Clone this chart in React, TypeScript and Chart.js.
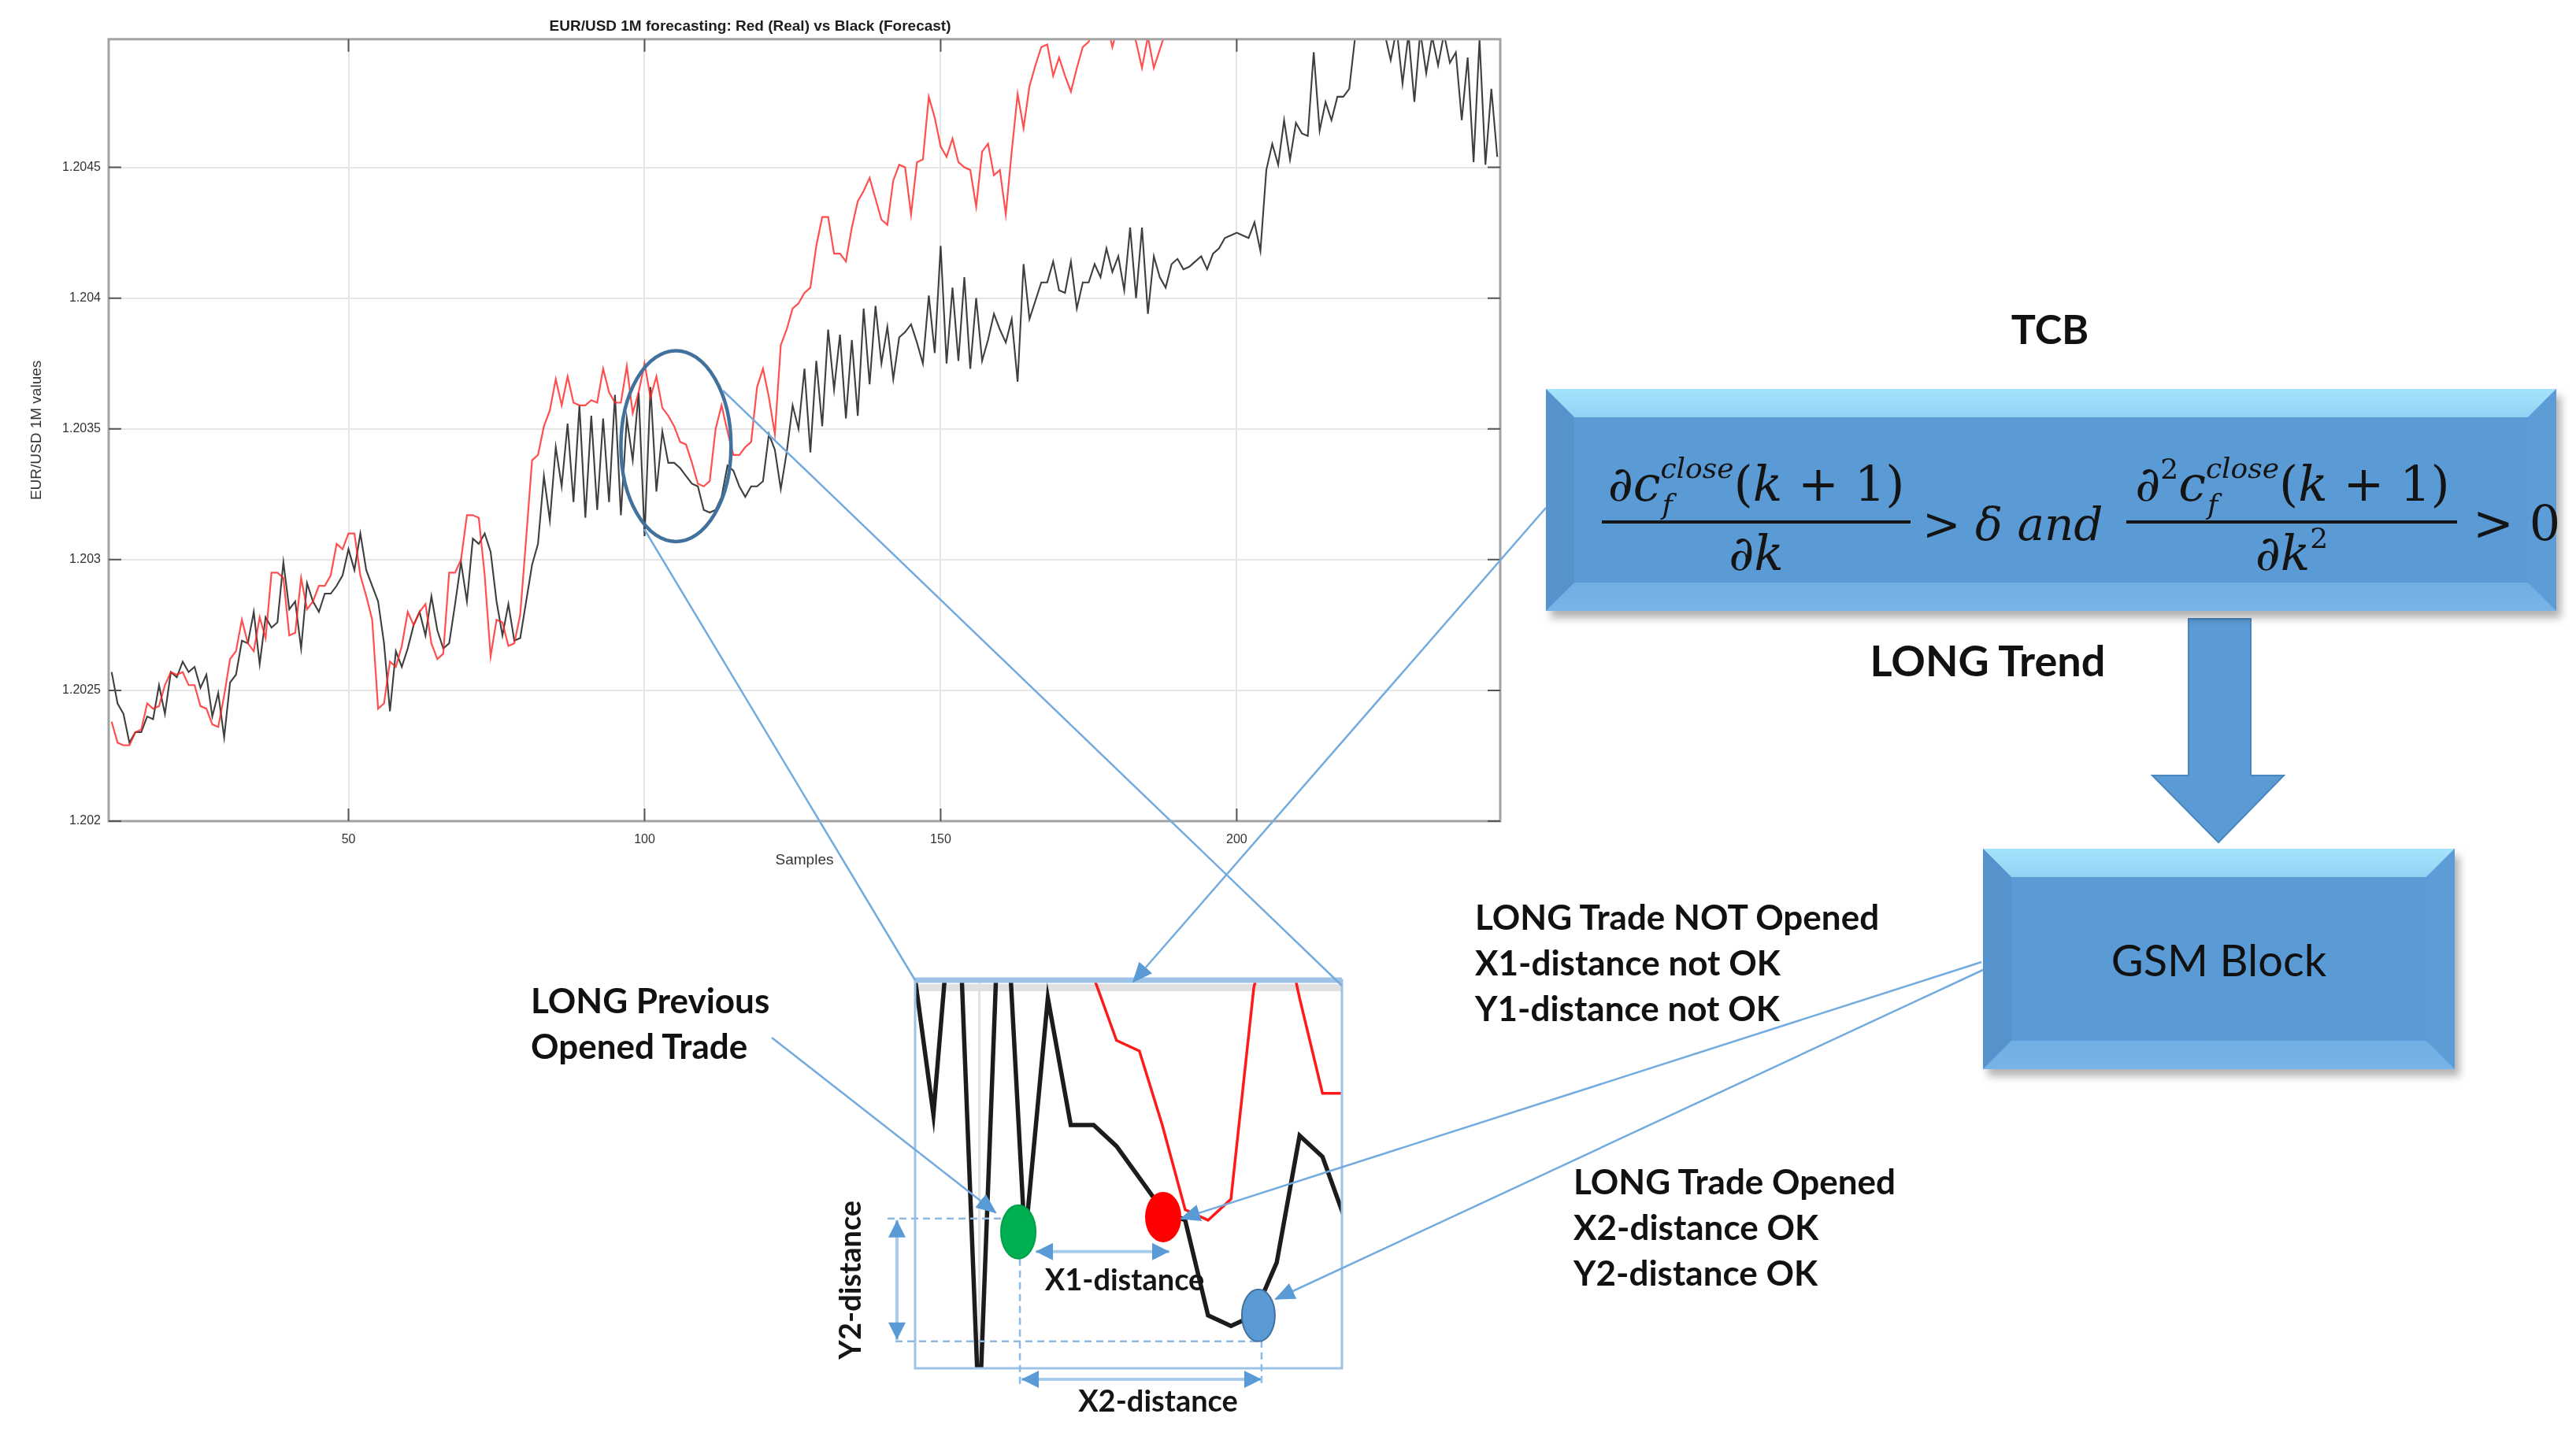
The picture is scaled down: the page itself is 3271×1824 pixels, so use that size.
import React, { useEffect, useRef } from 'react';
import { Chart, registerables } from 'chart.js';

Chart.register(...registerables);

// ---------------- data ----------------
const FIRST_SAMPLE = 10;

// Black (Forecast), samples 10..244
const forecastBlack: number[] = [
  1.20257, 1.20245, 1.20241, 1.20230, 1.20234, 1.20234, 1.20240, 1.20239, 1.20252, 1.20241,
  1.20257, 1.20255, 1.20261, 1.20257, 1.20259, 1.20251, 1.20256, 1.20240, 1.20249, 1.20232,
  1.20253, 1.20256, 1.20269, 1.20268, 1.20280, 1.20260, 1.20278, 1.20274, 1.20276, 1.20299,
  1.20281, 1.20284, 1.20266, 1.20291, 1.20284, 1.20280, 1.20287, 1.20287, 1.20290, 1.20294,
  1.20304, 1.20296, 1.20310, 1.20296, 1.20290, 1.20284, 1.20268, 1.20242, 1.20265, 1.20259,
  1.20266, 1.20275, 1.20280, 1.20271, 1.20286, 1.20273, 1.20266, 1.20268, 1.20283, 1.20299,
  1.20284, 1.20308, 1.20306, 1.20310, 1.20303, 1.20284, 1.20271, 1.20283, 1.20269, 1.20270,
  1.20284, 1.20298, 1.20306, 1.20332, 1.20315, 1.20343, 1.20328, 1.20352, 1.20322, 1.20359,
  1.20316, 1.20355, 1.20319, 1.20354, 1.20322, 1.20363, 1.20317, 1.20354, 1.20338, 1.20364,
  1.20309, 1.20366, 1.20326, 1.20349, 1.20337, 1.20337, 1.20335, 1.20332, 1.20329, 1.20328,
  1.20319, 1.20318, 1.20319, 1.20324, 1.20336, 1.20334, 1.20328, 1.20324, 1.20328, 1.20328,
  1.20330, 1.20348, 1.20342, 1.20327, 1.20341, 1.20359, 1.20350, 1.20373, 1.20341, 1.20376,
  1.20351, 1.20388, 1.20365, 1.20386, 1.20354, 1.20384, 1.20355, 1.20396, 1.20367, 1.20397,
  1.20375, 1.20389, 1.20369, 1.20385, 1.20387, 1.20390, 1.20383, 1.20375, 1.20401, 1.20379,
  1.20420, 1.20375, 1.20404, 1.20376, 1.20408, 1.20373, 1.20400, 1.20376, 1.20384, 1.20394,
  1.20388, 1.20383, 1.20392, 1.20368, 1.20413, 1.20392, 1.20399, 1.20406, 1.20406, 1.20414,
  1.20403, 1.20402, 1.20414, 1.20396, 1.20406, 1.20406, 1.20413, 1.20408, 1.20419, 1.20410,
  1.20416, 1.20403, 1.20427, 1.20400, 1.20427, 1.20394, 1.20416, 1.20408, 1.20404, 1.20413,
  1.20415, 1.20411, 1.20412, 1.20414, 1.20416, 1.20411, 1.20417, 1.20419, 1.20423, 1.20424,
  1.20425, 1.20424, 1.20423, 1.20429, 1.20418, 1.20449, 1.20459, 1.20451, 1.20468, 1.20453,
  1.20467, 1.20463, 1.20462, 1.20494, 1.20464, 1.20475, 1.20468, 1.20477, 1.20477, 1.20480,
  1.20500, 1.20505, 1.20507, 1.20504, 1.20506, 1.20501, 1.20491, 1.20503, 1.20482, 1.20501,
  1.20475, 1.20502, 1.20486, 1.20500, 1.20489, 1.20501, 1.20490, 1.20494, 1.20468, 1.20492,
  1.20452, 1.20499, 1.20451, 1.20480, 1.20454,
];

// Red (Real), samples 10..244
const realRed: number[] = [
  1.20238, 1.20230, 1.20229, 1.20229, 1.20234, 1.20235, 1.20245, 1.20243, 1.20244, 1.20252,
  1.20257, 1.20256, 1.20257, 1.20252, 1.20252, 1.20244, 1.20243, 1.20237, 1.20236, 1.20248,
  1.20262, 1.20265, 1.20277, 1.20268, 1.20265, 1.20278, 1.20270, 1.20295, 1.20295, 1.20293,
  1.20271, 1.20272, 1.20293, 1.20281, 1.20284, 1.20290, 1.20290, 1.20294, 1.20306, 1.20304,
  1.20310, 1.20310, 1.20294, 1.20286, 1.20277, 1.20243, 1.20245, 1.20261, 1.20259, 1.20267,
  1.20280, 1.20275, 1.20280, 1.20283, 1.20268, 1.20262, 1.20264, 1.20295, 1.20295, 1.20300,
  1.20317, 1.20317, 1.20316, 1.20294, 1.20263, 1.20277, 1.20276, 1.20267, 1.20268, 1.20279,
  1.20308, 1.20338, 1.20340, 1.20351, 1.20357, 1.20369, 1.20359, 1.20370, 1.20360, 1.20359,
  1.20359, 1.20361, 1.20360, 1.20373, 1.20364, 1.20360, 1.20360, 1.20374, 1.20356, 1.20364,
  1.20375, 1.20362, 1.20370, 1.20358, 1.20355, 1.20351, 1.20345, 1.20344, 1.20337, 1.20329,
  1.20328, 1.20330, 1.20350, 1.20359, 1.20349, 1.20340, 1.20340, 1.20343, 1.20345, 1.20366,
  1.20373, 1.20362, 1.20348, 1.20382, 1.20388, 1.20396, 1.20398, 1.20402, 1.20404, 1.20420,
  1.20431, 1.20431, 1.20417, 1.20417, 1.20414, 1.20427, 1.20437, 1.20441, 1.20446, 1.20438,
  1.20430, 1.20428, 1.20445, 1.20451, 1.20450, 1.20432, 1.20452, 1.20453, 1.20477, 1.20469,
  1.20458, 1.20454, 1.20461, 1.20452, 1.20450, 1.20449, 1.20435, 1.20456, 1.20459, 1.20447,
  1.20449, 1.20432, 1.20456, 1.20478, 1.20465, 1.20481, 1.20489, 1.20496, 1.20497, 1.20485,
  1.20492, 1.20485, 1.20479, 1.20488, 1.20496, 1.20498, 1.20505, 1.20510, 1.20506, 1.20496,
  1.20505, 1.20508, 1.20503, 1.20498, 1.20488, 1.20500, 1.20488, 1.20495, 1.20502, 1.20508,
  1.20512, 1.20515, 1.20511, 1.20518, 1.20522, 1.20519, 1.20525, 1.20530, 1.20527, 1.20533,
  1.20536, 1.20531, 1.20538, 1.20542, 1.20539, 1.20545, 1.20550, 1.20547, 1.20553, 1.20556,
  1.20552, 1.20558, 1.20562, 1.20559, 1.20565, 1.20568, 1.20563, 1.20570, 1.20574, 1.20571,
  1.20577, 1.20580, 1.20576, 1.20582, 1.20585, 1.20581, 1.20588, 1.20591, 1.20587, 1.20594,
  1.20597, 1.20593, 1.20598, 1.20602, 1.20599, 1.20604, 1.20607, 1.20603, 1.20608, 1.20611,
  1.20606, 1.20612, 1.20615, 1.20611, 1.20616,
];

const xTicks = [50, 100, 150, 200];
const yTicks = [1.202, 1.2025, 1.203, 1.2035, 1.204, 1.2045];
const xLimits = [9.5, 244.5];
const yLimits = [1.202, 1.20499];

// zoomed detail window
const zoomXLimits = [97.2, 115.85];
const zoomYLimits = [1.20314, 1.203507];
const zoomGridX = [100];
const zoomGridY = [1.2035];

// highlighted region on the main chart (centre sample/value, half sizes)
const focusCenter = [105.3, 1.203434];
const focusHalfSize = [9.3, 0.000365];

// trade markers in the zoomed window: previous opened (green), not opened (red), opened (blue)
const tradeSamples = [101.71, 108.04, 112.2];
const tradeValues = [1.203269, 1.203283, 1.20319];

const toPoints = (vals: number[]) => vals.map((y, i) => ({ x: FIRST_SAMPLE + i, y }));

const SANS = '"Liberation Sans", Arial, sans-serif';
const LATO = 'Lato, "Open Sans", sans-serif';
const MATH = '"DejaVu Serif", "Liberation Serif", serif';

// ---------------- main chart ----------------
function MainChart() {
  const ref = useRef<HTMLCanvasElement>(null);
  useEffect(() => {
    const frame = {
      id: 'matlabFrame',
      afterDatasetsDraw(chart: any) {
        const { ctx, chartArea: a, scales } = chart;
        const xs = scales.x;
        const ys = scales.y;
        ctx.save();
        ctx.strokeStyle = '#a3a3a3';
        ctx.lineWidth = 3;
        ctx.strokeRect(a.left, a.top, a.right - a.left, a.bottom - a.top);
        ctx.strokeStyle = '#555';
        ctx.lineWidth = 2;
        const tl = 16;
        xTicks.forEach((v) => {
          const px = xs.getPixelForValue(v);
          ctx.beginPath();
          ctx.moveTo(px, a.bottom); ctx.lineTo(px, a.bottom - tl);
          ctx.moveTo(px, a.top); ctx.lineTo(px, a.top + tl);
          ctx.stroke();
        });
        yTicks.forEach((v) => {
          const py = ys.getPixelForValue(v);
          ctx.beginPath();
          ctx.moveTo(a.left, py); ctx.lineTo(a.left + tl, py);
          ctx.moveTo(a.right, py); ctx.lineTo(a.right - tl, py);
          ctx.stroke();
        });
        const cx = xs.getPixelForValue(focusCenter[0]);
        const cy = ys.getPixelForValue(focusCenter[1]);
        const rx = Math.abs(xs.getPixelForValue(focusCenter[0] + focusHalfSize[0]) - cx);
        const ry = Math.abs(ys.getPixelForValue(focusCenter[1] + focusHalfSize[1]) - cy);
        ctx.beginPath();
        ctx.ellipse(cx, cy, rx, ry, 0, 0, Math.PI * 2);
        ctx.strokeStyle = '#41719C';
        ctx.lineWidth = 4.5;
        ctx.stroke();
        ctx.restore();
      },
    };
    const chart = new Chart(ref.current as HTMLCanvasElement, {
      type: 'line',
      data: {
        datasets: [
          { label: 'Real', data: toPoints(realRed), borderColor: 'rgba(255,35,35,0.8)', borderWidth: 2.2, pointRadius: 0, tension: 0 },
          { label: 'Forecast', data: toPoints(forecastBlack), borderColor: 'rgba(15,15,15,0.8)', borderWidth: 2.1, pointRadius: 0, tension: 0 },
        ],
      },
      options: {
        animation: false,
        responsive: true,
        maintainAspectRatio: false,
        devicePixelRatio: 1,
        events: [],
        layout: { padding: { left: 0, right: 45, top: 0, bottom: 0 } },
        plugins: {
          legend: { display: false },
          tooltip: { enabled: false },
          title: {
            display: true,
            text: 'EUR/USD 1M forecasting: Red (Real) vs Black (Forecast)',
            font: { family: SANS, size: 19, weight: 'bold' },
            color: '#1e1e1e',
            padding: { top: 22, bottom: 5 },
          },
        },
        scales: {
          x: {
            type: 'linear',
            min: xLimits[0],
            max: xLimits[1],
            afterBuildTicks: (s: any) => { s.ticks = xTicks.map((value) => ({ value })); },
            afterFit: (s: any) => { s.height = 77; },
            grid: { color: '#e6e6e6', lineWidth: 2, drawTicks: false },
            border: { display: false },
            ticks: { padding: 14, color: '#333', font: { family: SANS, size: 16 }, callback: (v: any) => String(v), maxRotation: 0 },
            title: { display: true, text: 'Samples', color: '#333', font: { family: SANS, size: 19 }, padding: { top: 0, bottom: 16 } },
          },
          y: {
            type: 'linear',
            min: yLimits[0],
            max: yLimits[1],
            afterBuildTicks: (s: any) => { s.ticks = yTicks.map((value) => ({ value })); },
            afterFit: (s: any) => { s.width = 138; },
            grid: { color: '#e6e6e6', lineWidth: 2, drawTicks: false },
            border: { display: false },
            ticks: { padding: 10, color: '#333', font: { family: SANS, size: 16 }, callback: (v: any) => String(v) },
            title: { display: true, text: 'EUR/USD 1M values', color: '#333', font: { family: SANS, size: 19 }, padding: { top: 35, bottom: 0 } },
          },
        },
      } as any,
      plugins: [frame],
    });
    return () => chart.destroy();
  }, []);
  return (
    <div style={{ position: 'absolute', left: 0, top: 0, width: 1950, height: 1120 }}>
      <canvas ref={ref} />
    </div>
  );
}

// ---------------- zoomed detail chart ----------------
function headTri(ctx: any, x1: number, y1: number, x2: number, y2: number, len: number, half: number, color: string) {
  const ang = Math.atan2(y2 - y1, x2 - x1);
  ctx.beginPath();
  ctx.moveTo(x2, y2);
  ctx.lineTo(x2 - len * Math.cos(ang) + half * Math.sin(ang), y2 - len * Math.sin(ang) - half * Math.cos(ang));
  ctx.lineTo(x2 - len * Math.cos(ang) - half * Math.sin(ang), y2 - len * Math.sin(ang) + half * Math.cos(ang));
  ctx.closePath();
  ctx.fillStyle = color;
  ctx.fill();
}

function dblArrow(ctx: any, x1: number, y1: number, x2: number, y2: number) {
  ctx.setLineDash([]);
  ctx.strokeStyle = '#A9CBEC';
  ctx.lineWidth = 4;
  ctx.beginPath();
  ctx.moveTo(x1, y1);
  ctx.lineTo(x2, y2);
  ctx.stroke();
  headTri(ctx, x2, y2, x1, y1, 22, 11, '#5B9BD5');
  headTri(ctx, x1, y1, x2, y2, 22, 11, '#5B9BD5');
}

function ZoomChart() {
  const ref = useRef<HTMLCanvasElement>(null);
  useEffect(() => {
    const annot = {
      id: 'zoomAnnot',
      afterDraw(chart: any) {
        const { ctx, chartArea: a, scales } = chart;
        const xs = scales.x;
        const ys = scales.y;
        const P = tradeSamples.map((s, i) => ({ x: xs.getPixelForValue(s), y: ys.getPixelForValue(tradeValues[i]) }));
        const [G, R, B] = P;
        ctx.save();
        ctx.strokeStyle = '#9DC3E6';
        ctx.lineWidth = 3;
        ctx.strokeRect(a.left, a.top, a.right - a.left, a.bottom - a.top);
        ctx.lineWidth = 7;
        ctx.beginPath();
        ctx.moveTo(a.left, a.top);
        ctx.lineTo(a.right, a.top);
        ctx.stroke();

        ctx.setLineDash([9, 6]);
        ctx.strokeStyle = '#8DB9E4';
        ctx.lineWidth = 2.5;
        const seg = (x1: number, y1: number, x2: number, y2: number) => {
          ctx.beginPath(); ctx.moveTo(x1, y1); ctx.lineTo(x2, y2); ctx.stroke();
        };
        seg(a.left - 35, G.y - 17, G.x - 20, G.y - 17);
        seg(a.left - 25, B.y + 33, B.x, B.y + 33);
        seg(G.x + 2, G.y + 34, G.x + 2, a.bottom + 24);
        seg(B.x + 4, B.y + 32, B.x + 4, a.bottom + 24);
        ctx.setLineDash([]);

        const ell = (p: any, rx: number, ry: number, fill: string, stroke: string | null) => {
          ctx.beginPath();
          ctx.ellipse(p.x, p.y, rx, ry, 0, 0, Math.PI * 2);
          ctx.fillStyle = fill;
          ctx.fill();
          if (stroke) { ctx.strokeStyle = stroke; ctx.lineWidth = 2; ctx.stroke(); }
        };
        ell(G, 22, 34, '#00B050', '#00A04A');
        ell(R, 23, 32, '#FF0000', null);
        ell(B, 21, 33, '#5B9BD5', '#41719C');

        dblArrow(ctx, G.x + 22, G.y + 25, R.x + 8, G.y + 25);
        dblArrow(ctx, G.x + 4, a.bottom + 14, B.x + 4, a.bottom + 14);
        dblArrow(ctx, a.left - 23, G.y - 15, a.left - 23, B.y + 31);

        ctx.fillStyle = '#151515';
        ctx.font = `bold 38px ${LATO}`;
        ctx.textAlign = 'center';
        ctx.textBaseline = 'middle';
        ctx.fillText('X1-distance', (G.x + R.x) / 2 + 43, G.y + 62);
        ctx.fillText('X2-distance', (G.x + B.x) / 2 + 25, a.bottom + 43);
        ctx.translate(a.left - 81, (G.y - 15 + B.y + 31) / 2);
        ctx.rotate(-Math.PI / 2);
        ctx.fillText('Y2-distance', 0, 0);
        ctx.restore();
      },
    };
    const chart = new Chart(ref.current as HTMLCanvasElement, {
      type: 'line',
      data: {
        datasets: [
          { label: 'Real', data: toPoints(realRed), borderColor: '#ff1a1a', borderWidth: 3.5, pointRadius: 0, tension: 0 },
          { label: 'Forecast', data: toPoints(forecastBlack), borderColor: '#1c1c1c', borderWidth: 5.5, pointRadius: 0, tension: 0 },
        ],
      },
      options: {
        animation: false,
        responsive: true,
        maintainAspectRatio: false,
        devicePixelRatio: 1,
        events: [],
        layout: { padding: { left: 162, right: 56, top: 45, bottom: 86 } },
        plugins: { legend: { display: false }, tooltip: { enabled: false }, title: { display: false } },
        scales: {
          x: {
            type: 'linear',
            min: zoomXLimits[0],
            max: zoomXLimits[1],
            afterBuildTicks: (s: any) => { s.ticks = zoomGridX.map((value) => ({ value })); },
            grid: { color: '#e3e3e3', lineWidth: 3, drawTicks: false },
            border: { display: false },
            ticks: { display: false },
          },
          y: {
            type: 'linear',
            min: zoomYLimits[0],
            max: zoomYLimits[1],
            afterBuildTicks: (s: any) => { s.ticks = zoomGridY.map((value) => ({ value })); },
            grid: { color: '#e0e0e0', lineWidth: 9, drawTicks: false },
            border: { display: false },
            ticks: { display: false },
          },
        },
      } as any,
      plugins: [annot],
    });
    return () => chart.destroy();
  }, []);
  return (
    <div style={{ position: 'absolute', left: 1000, top: 1200, width: 760, height: 624 }}>
      <canvas ref={ref} />
    </div>
  );
}

// ---------------- diagram pieces ----------------
function BevelBox({ left, top, width, height, b }: any) {
  const layer = (clip: string, bg: string) => (
    <div style={{ position: 'absolute', left: 0, top: 0, width: '100%', height: '100%', clipPath: clip, background: bg }} />
  );
  return (
    <div style={{ position: 'absolute', left, top, width, height, background: '#5B9BD5', boxShadow: '6px 9px 10px rgba(0,0,0,0.3)' }}>
      {layer(`polygon(0 0, 100% 0, calc(100% - ${b}px) ${b}px, ${b}px ${b}px)`, 'linear-gradient(180deg, #A6E3FC 0%, #86C6EF 22%, #68A9DE 60%, #5E9FD8 100%)')}
      {layer(`polygon(0 0, ${b}px ${b}px, ${b}px calc(100% - ${b}px), 0 100%)`, '#5693CC')}
      {layer(`polygon(100% 0, 100% 100%, calc(100% - ${b}px) calc(100% - ${b}px), calc(100% - ${b}px) ${b}px)`, '#5D9DD7')}
      {layer(`polygon(0 100%, ${b}px calc(100% - ${b}px), calc(100% - ${b}px) calc(100% - ${b}px), 100% 100%)`, 'linear-gradient(0deg, #78B4E7 0%, #5F9ED7 45%, #5B9BD5 100%)')}
    </div>
  );
}

function Scripts({ sup, sub }: any) {
  return (
    <span style={{ position: 'relative', display: 'inline-block', fontSize: 36, fontStyle: 'italic', lineHeight: 1 }}>
      <span style={{ position: 'relative', top: -29 }}>{sup}</span>
      <span style={{ position: 'absolute', left: 2, top: 17 }}>{sub}</span>
    </span>
  );
}

const mathBase: React.CSSProperties = {
  position: 'absolute', fontFamily: MATH, fontSize: 62, lineHeight: 1, color: '#141414', whiteSpace: 'nowrap',
};

function Formula() {
  return (
    <>
      <div style={{ ...mathBase, left: 2034, width: 392, top: 584, textAlign: 'center' }}>
        ∂<i>c</i><Scripts sup="close" sub="f" />(<i>k</i> + 1)
      </div>
      <div style={{ position: 'absolute', left: 2034, top: 661, width: 392, height: 4, background: '#161616' }} />
      <div style={{ ...mathBase, left: 2034, width: 392, top: 672, textAlign: 'center' }}>
        ∂<i>k</i>
      </div>
      <div style={{ ...mathBase, fontSize: 58, left: 2441, top: 637 }}>
        {'> '}<i>δ</i> <i>and</i>
      </div>
      <div style={{ ...mathBase, left: 2700, width: 422, top: 584, textAlign: 'center' }}>
        ∂<span style={{ fontSize: 36, position: 'relative', top: -28 }}>2</span><i>c</i><Scripts sup="close" sub="f" />(<i>k</i> + 1)
      </div>
      <div style={{ position: 'absolute', left: 2700, top: 661, width: 420, height: 4, background: '#161616' }} />
      <div style={{ ...mathBase, left: 2700, width: 420, top: 672, textAlign: 'center' }}>
        ∂<i>k</i><span style={{ fontSize: 36, position: 'relative', top: -28 }}>2</span>
      </div>
      <div style={{ ...mathBase, left: 3140, top: 634 }}>{'> 0'}</div>
    </>
  );
}

const label = (left: number, top: number, lines: string[], extra: React.CSSProperties = {}) => (
  <div style={{ position: 'absolute', left, top, fontFamily: LATO, fontWeight: 700, fontSize: 44, lineHeight: '58px', color: '#111', whiteSpace: 'nowrap', ...extra }}>
    {lines.map((t, i) => <div key={i}>{t}</div>)}
  </div>
);

function Connectors() {
  const c = '#74ABDE';
  return (
    <svg width={3271} height={1824} style={{ position: 'absolute', left: 0, top: 0, pointerEvents: 'none' }}>
      <defs>
        <marker id="ah" markerUnits="userSpaceOnUse" markerWidth="26" markerHeight="22" viewBox="0 0 26 22" refX="24" refY="11" orient="auto">
          <path d="M0,0 L26,11 L0,22 z" fill="#5B9BD5" />
        </marker>
      </defs>
      <line x1={818} y1={672} x2={1162} y2={1245} stroke={c} strokeWidth={2.5} />
      <line x1={918} y1={496} x2={1704} y2={1252} stroke={c} strokeWidth={2.5} />
      <line x1={1963} y1={645} x2={1439} y2={1247} stroke={c} strokeWidth={2.5} markerEnd="url(#ah)" />
      <line x1={2516} y1={1222} x2={1500} y2={1548} stroke={c} strokeWidth={2.5} markerEnd="url(#ah)" />
      <line x1={2518} y1={1232} x2={1620} y2={1650} stroke={c} strokeWidth={2.5} markerEnd="url(#ah)" />
      <line x1={980} y1={1318} x2={1264} y2={1540} stroke={c} strokeWidth={2.5} markerEnd="url(#ah)" />
    </svg>
  );
}

function DownArrow() {
  return (
    <svg width={3271} height={1824} style={{ position: 'absolute', left: 0, top: 0, pointerEvents: 'none' }}>
      <polygon
        points="2779,786 2858,786 2858,985 2900,985 2817,1070 2733,985 2779,985"
        fill="#5B9BD5"
        stroke="#4A86BE"
        strokeWidth={2}
      />
    </svg>
  );
}

export default function App() {
  return (
    <div style={{ position: 'absolute', left: 0, top: 0, width: 3271, height: 1824, background: '#fff', overflow: 'hidden' }}>
      <MainChart />
      <ZoomChart />
      <DownArrow />
      <BevelBox left={1963} top={494} width={1283} height={282} b={36} />
      <Formula />
      <BevelBox left={2518} top={1078} width={599} height={280} b={36} />
      <div style={{ position: 'absolute', left: 2518, top: 1078, width: 599, height: 280, display: 'flex', alignItems: 'center', justifyContent: 'center', fontFamily: LATO, fontSize: 56, color: '#111' }}>
        GSM Block
      </div>
      <div style={{ position: 'absolute', left: 2603, top: 387, transform: 'translateX(-50%)', fontFamily: LATO, fontWeight: 700, fontSize: 52, lineHeight: '60px', color: '#111' }}>TCB</div>
      <div style={{ position: 'absolute', left: 2524, top: 807, transform: 'translateX(-50%)', fontFamily: LATO, fontWeight: 700, fontSize: 54, lineHeight: '64px', color: '#111', whiteSpace: 'nowrap' }}>LONG Trend</div>
      {label(674, 1241, ['LONG Previous', 'Opened Trade'])}
      {label(1873, 1135, ['LONG Trade NOT Opened', 'X1-distance not OK', 'Y1-distance not OK'])}
      {label(1998, 1471, ['LONG Trade Opened', 'X2-distance OK', 'Y2-distance OK'])}
      <Connectors />
    </div>
  );
}
